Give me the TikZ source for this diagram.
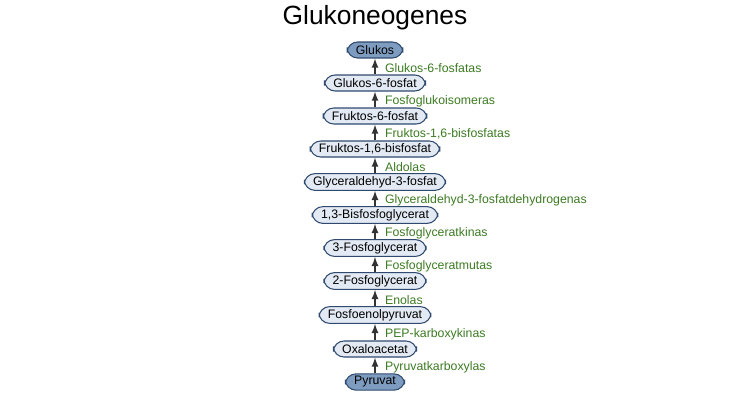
\documentclass[tikz,border=0pt]{standalone}
\usepackage{fontspec}
\setmainfont{Liberation Sans}
\definecolor{boxfill}{HTML}{E3EAF4}
\definecolor{boxdark}{HTML}{7D9CC0}
\definecolor{boxline}{HTML}{2F4A6E}
\definecolor{enzgreen}{HTML}{3C7A22}
\begin{document}
\begin{tikzpicture}[x=0.02cm,y=-0.02cm,
	metabolit/.style={draw=boxline, fill=boxfill, rounded corners=6pt, semithick, inner xsep=5pt, inner ysep=1.5pt, minimum height=0.32cm, font=\fontsize{7}{8}\selectfont},
	endmetabolit/.style={metabolit, fill=boxdark},
	enzyme/.style={right, text=enzgreen, font=\fontsize{7}{8}\selectfont},
	conv/.style={-latex, thick, draw=black!80}]
	\useasboundingbox (0,0) rectangle (750,409);
	
	\node[font=\fontsize{15}{18}\selectfont] (title) at (375,18) {Glukoneogenes};
	
	\node[endmetabolit] (glc) at (375,50) {Glukos};
	\node[metabolit] (g6p) at (375,83) {Glukos-6-fosfat};
	\node[metabolit] (f6p) at (375,116) {Fruktos-6-fosfat};
	\node[metabolit] (fbp) at (375,149) {Fruktos-1,6-bisfosfat};
	\node[metabolit] (gap) at (375,182) {Glyceraldehyd-3-fosfat};
	\node[metabolit] (bpg) at (375,215) {1,3-Bisfosfoglycerat};
	\node[metabolit] (pga3) at (375,248) {3-Fosfoglycerat};
	\node[metabolit] (pga2) at (375,281) {2-Fosfoglycerat};
	\node[metabolit] (pep) at (375,315) {Fosfoenolpyruvat};
	\node[metabolit] (oaa) at (375,349) {Oxaloacetat};
	\node[endmetabolit] (pyr) at (375,382) {Pyruvat};
	
	% reaktioner
	\foreach \from/\to/\enz in {g6p/glc/Glukos-6-fosfatas, f6p/g6p/Fosfoglukoisomeras,
		fbp/f6p/{Fruktos-1,6-bisfosfatas}, gap/fbp/Aldolas,
		bpg/gap/Glyceraldehyd-3-fosfatdehydrogenas, pga3/bpg/Fosfoglyceratkinas,
		pga2/pga3/Fosfoglyceratmutas, pep/pga2/Enolas,
		oaa/pep/PEP-karboxykinas, pyr/oaa/Pyruvatkarboxylas}
	\draw[conv] (\from) -- (\to) node[enzyme, midway, xshift=2pt, yshift=-1pt] {\enz};
\end{tikzpicture}
\end{document}
